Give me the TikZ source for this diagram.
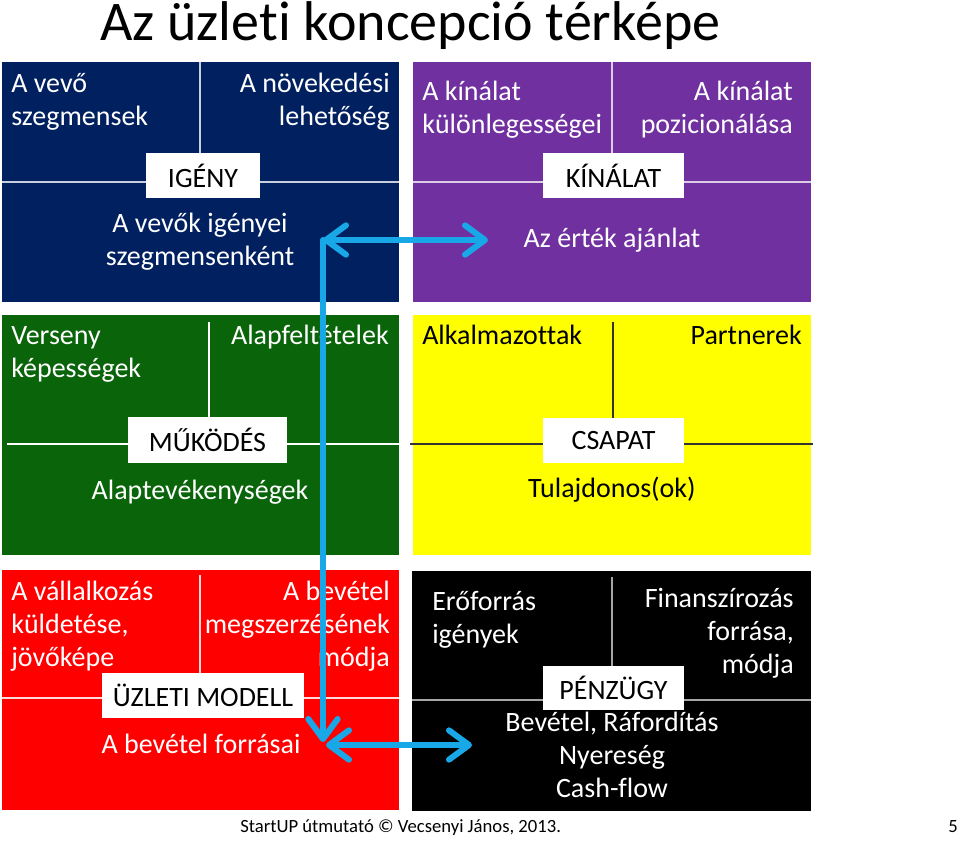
\documentclass[tikz,border=0pt]{standalone}
\usepackage{fontspec}
\setmainfont{Carlito}[Ligatures={NoCommon}]
\usetikzlibrary{arrows.meta}
\definecolor{navyq}{HTML}{002060}
\definecolor{purpq}{HTML}{7030A0}
\definecolor{greenq}{HTML}{0A640A}
\definecolor{yellq}{HTML}{FFFF00}
\definecolor{redq}{HTML}{FF0000}
\definecolor{blackq}{HTML}{000000}
\definecolor{arrowblue}{HTML}{18A8E8}
\tikzset{
  divline/.style={line width=1.2pt},
  lbl/.style={fill=white, inner sep=0pt, text=black, align=center},
  wt/.style={text=white, inner sep=0pt},
  bt/.style={text=black, inner sep=0pt},
  blarrow/.style={draw=arrowblue, line width=4.5pt, line cap=round, line join=round,
    >={Straight Barb[length=15pt,width=22pt,line cap=round,line join=round]}},
}
\begin{document}
\begin{tikzpicture}[x=0.75pt,y=-0.75pt,font=\fontsize{21}{24.75}\selectfont]
\useasboundingbox (0,0) rectangle (960,840);
\fill[white] (0,0) rectangle (960,840);

% quadrants
\fill[navyq]  (2,62)   rectangle (399,302);
\fill[purpq]  (413,62) rectangle (811,302);
\fill[greenq] (2,315)  rectangle (399,555);
\fill[yellq]  (413,315) rectangle (811,555);
\fill[redq]   (2,570)  rectangle (399,810);
\fill[blackq] (412,571) rectangle (811,811);

% dividers
\draw[divline, white!78!navyq] (200,62) -- (200,153) (2,182) -- (399,182);
\draw[divline, white!75!purpq] (612,62) -- (612,153) (413,182) -- (811,182);
\draw[divline, white] (209,322) -- (209,417) (7,444) -- (399,444);
\draw[divline, black!80] (613,322) -- (613,418) (410,444) -- (813,444);
\draw[divline, white!85!redq] (200,575) -- (200,673) (2,698) -- (399,698);
\draw[divline, black!35!white] (612,577) -- (612,666) (412,700) -- (811,700);

% labels
\node[lbl, minimum width=85.5pt, minimum height=33.75pt] (igeny) at (203,175.5) {IGÉNY};
\node[lbl, minimum width=105.75pt, minimum height=33.75pt] (kinalat) at (613.5,175.5) {KÍNÁLAT};
\node[lbl, minimum width=119.25pt, minimum height=34.5pt] (mukodes) at (207.5,440) {MŰKÖDÉS};
\node[lbl, minimum width=105.75pt, minimum height=33.75pt] (csapat) at (613.5,440.5) {CSAPAT};
\node[lbl, minimum width=151.5pt, minimum height=33.75pt] (uzleti) at (203,695.5) {ÜZLETI MODELL};
\node[lbl, minimum width=105.75pt, minimum height=33pt] (penzugy) at (613.5,688) {PÉNZÜGY};

% navy texts (base anchor = last line)
\node[wt, anchor=base west, align=left] (vevo) at (11,125) {A vevő\\szegmensek};
\node[wt, anchor=base east, align=right] (novek) at (390,125) {A növekedési\\lehetőség};
\node[wt, anchor=base, align=center] (igenyei) at (200,265) {A vevők igényei\\szegmensenként};
% purple texts
\node[wt, anchor=base west, align=left] (kulonl) at (422,133) {A kínálat\\különlegességei};
\node[wt, anchor=base east, align=right] (pozic) at (793,133) {A kínálat\\pozicionálása};
\node[wt, anchor=base, align=center] (ertek) at (612,247) {Az érték ajánlat};
% green texts
\node[wt, anchor=base west, align=left] (verseny) at (11,377) {Verseny\\képességek};
\node[wt, anchor=base east, align=right] (alapf) at (389,344) {Alapfeltételek};
\node[wt, anchor=base, align=center] (alaptev) at (200,499) {Alaptevékenységek};
% yellow texts
\node[bt, anchor=base west, align=left] (alkalm) at (422,344) {Alkalmazottak};
\node[bt, anchor=base east, align=right] (partner) at (802,344) {Partnerek};
\node[bt, anchor=base, align=center] (tulaj) at (612,497) {Tulajdonos(ok)};
% red texts
\node[wt, anchor=base west, align=left] (vallalk) at (11,666) {A vállalkozás\\küldetése,\\jövőképe};
\node[wt, anchor=base east, align=right] (bevmeg) at (390,666) {A bevétel\\megszerzésének\\módja};
\node[wt, anchor=base, align=center] (bevforr) at (201,753) {A bevétel forrásai};
% black texts
\node[wt, anchor=base west, align=left] (eroforr) at (432,643) {Erőforrás\\igények};
\node[wt, anchor=base east, align=right] (finansz) at (794,673) {Finanszírozás\\forrása,\\módja};
\node[wt, anchor=base, align=center] (bevraf) at (612,797) {Bevétel, Ráfordítás\\Nyereség\\Cash-flow};

% title and footer
\node[bt, anchor=base west, font=\fontsize{42}{49}\selectfont] (title) at (100,40) {Az üzleti koncepció térképe};
\node[bt, anchor=base west, font=\fontsize{14}{17}\selectfont] (footer) at (240,832) {StartUP útmutató © Vecsenyi János, 2013.};
\node[bt, anchor=base east, font=\fontsize{14}{17}\selectfont] (pagenum) at (958,832) {5};

% arrows
\coordinate (tl) at (323,240);
\coordinate (tr) at (488,240);
\coordinate (bl) at (323,742);
\coordinate (bl2) at (326,745);
\coordinate (br) at (472,745);
\draw[blarrow, <->] (tl) -- (tr);
\draw[blarrow, ->] (tl) -- (bl);
\draw[blarrow, <->] (bl2) -- (br);
\end{tikzpicture}
\end{document}
